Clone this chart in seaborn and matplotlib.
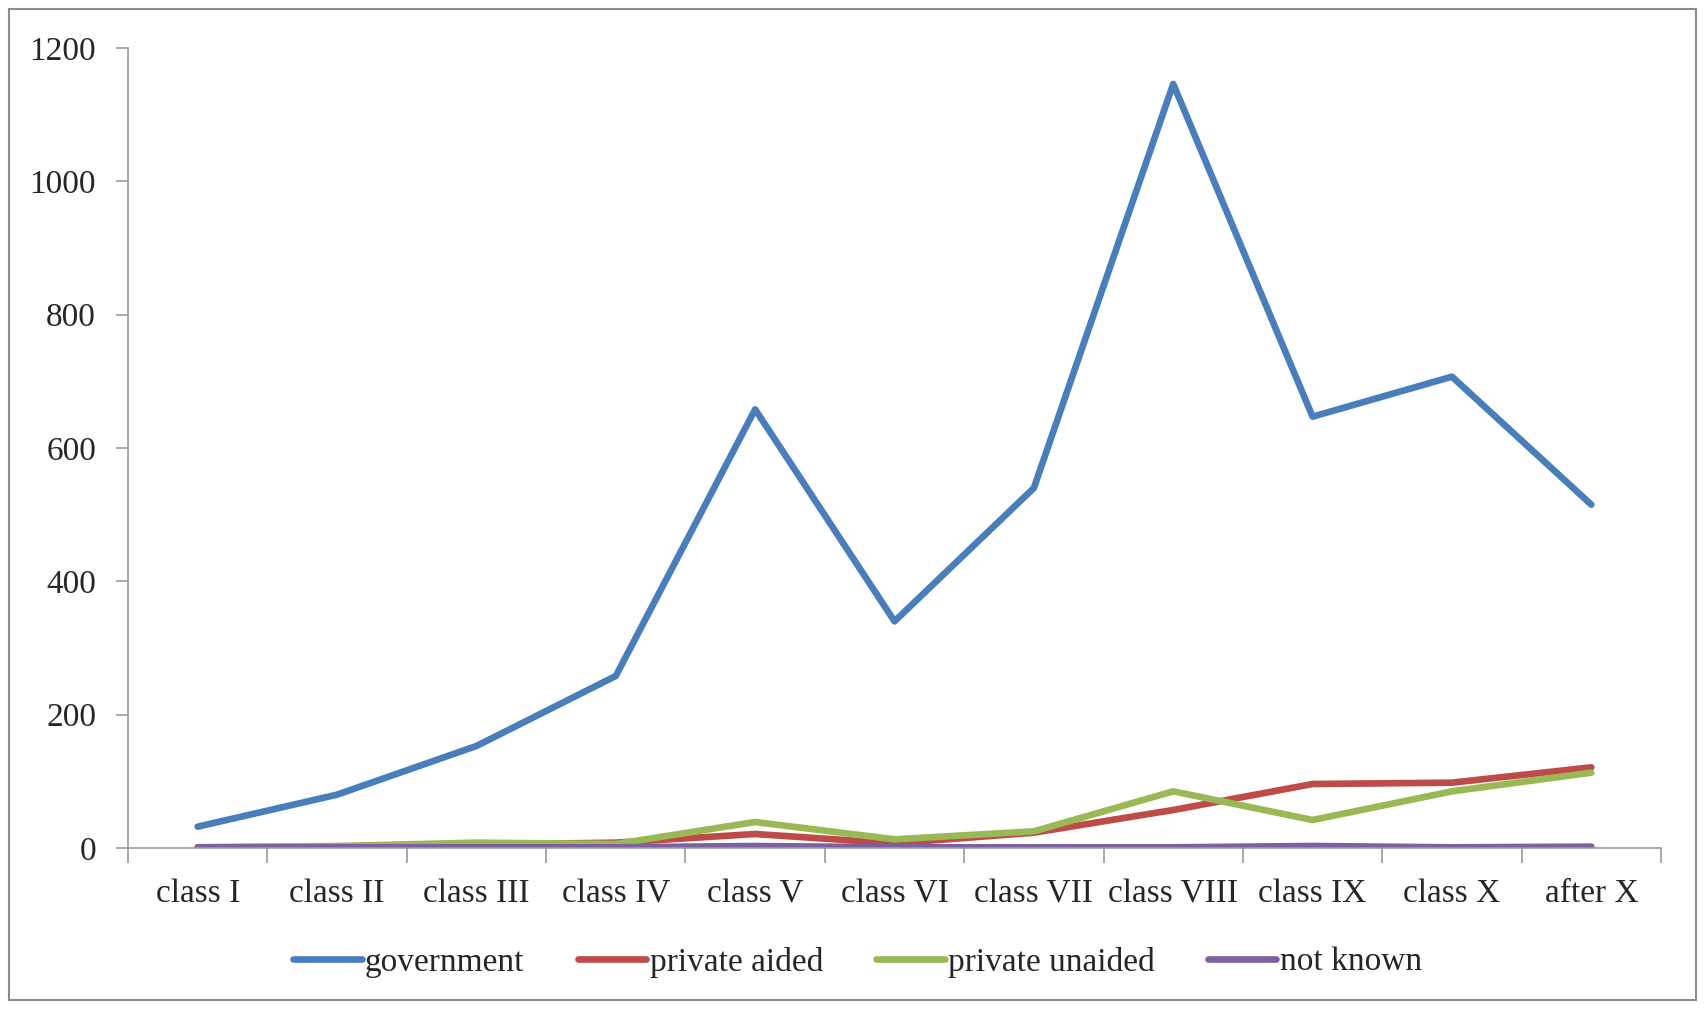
import matplotlib
matplotlib.use("Agg")
import matplotlib.pyplot as plt
import seaborn as sns
import pandas as pd
import numpy as np
from matplotlib.patches import Rectangle
from matplotlib.lines import Line2D
from matplotlib.ticker import FixedLocator, NullFormatter, FixedFormatter

categories = ["class I", "class II", "class III", "class IV", "class V", "class VI",
              "class VII", "class VIII", "class IX", "class X", "after X"]
government = [32, 80, 153, 258, 658, 340, 540, 1146, 647, 707, 515]
private_aided = [1, 2, 5, 8, 21, 7, 23, 57, 96, 98, 121]
private_unaided = [1, 3, 8, 6, 39, 13, 25, 85, 42, 85, 113]
not_known = [1, 1, 1, 1, 3, 1, 1, 1, 3, 1, 2]
series_names = ["government", "private aided", "private unaided", "not known"]
colors = ["#4A7EBB", "#BE4B48", "#98B954", "#7D60A0"]
yticks = [0, 200, 400, 600, 800, 1000, 1200]

sns.set_theme(style="white")
plt.rcParams['font.family'] = ['Liberation Serif', 'DejaVu Serif']

rows = []
for name, vals in zip(series_names, [government, private_aided, private_unaided, not_known]):
    for i, v in enumerate(vals):
        rows.append({"pos": i, "value": v, "series": name})
df = pd.DataFrame(rows)

fig = plt.figure(figsize=(17.05, 10.09), dpi=100)
ax = fig.add_axes([128/1705, 1-848/1009, (1661-128)/1705, (848-48)/1009])

sns.lineplot(data=df, x="pos", y="value", hue="series", hue_order=series_names,
             palette=colors, linewidth=4.8, ax=ax, legend=False, sort=False)

ax.set_xlim(-0.5, len(categories) - 0.5)
ax.set_ylim(0, 1200)
ax.set_xlabel("")
ax.set_ylabel("")

ax.xaxis.set_major_locator(FixedLocator(np.arange(-0.5, len(categories), 1.0)))
ax.xaxis.set_major_formatter(NullFormatter())
ax.xaxis.set_minor_locator(FixedLocator(np.arange(len(categories))))
ax.xaxis.set_minor_formatter(FixedFormatter(categories))
ax.tick_params(axis="x", which="major", length=11, width=1.2, color="#9a9a9a", direction="out", bottom=True)
ax.tick_params(axis="x", which="minor", length=0, pad=22, labelsize=24, bottom=True)
ax.set_yticks(yticks)
ax.set_yticklabels([str(t) for t in yticks])
ax.tick_params(axis="y", length=9, width=1.2, color="#9a9a9a", direction="out", left=True, pad=14, labelsize=24)

for s in ["top", "right"]:
    ax.spines[s].set_visible(False)
for s in ["left", "bottom"]:
    ax.spines[s].set_color("#9a9a9a")
    ax.spines[s].set_linewidth(1.2)

handles = [Line2D([0], [0], color=c, lw=4.8) for c in colors]
fig.legend(handles, series_names, loc="center", bbox_to_anchor=(0.503, 1-962/1009),
           ncol=4, frameon=False, fontsize=24, handlelength=2.05, handletextpad=0.1,
           columnspacing=1.6)

fig.patches.append(Rectangle((9/1705, 9/1009), 1-18/1705, 1-18/1009, transform=fig.transFigure,
                             fill=False, edgecolor="#8c8c8c", linewidth=1.5))

fig.savefig("out.png", dpi=100)
